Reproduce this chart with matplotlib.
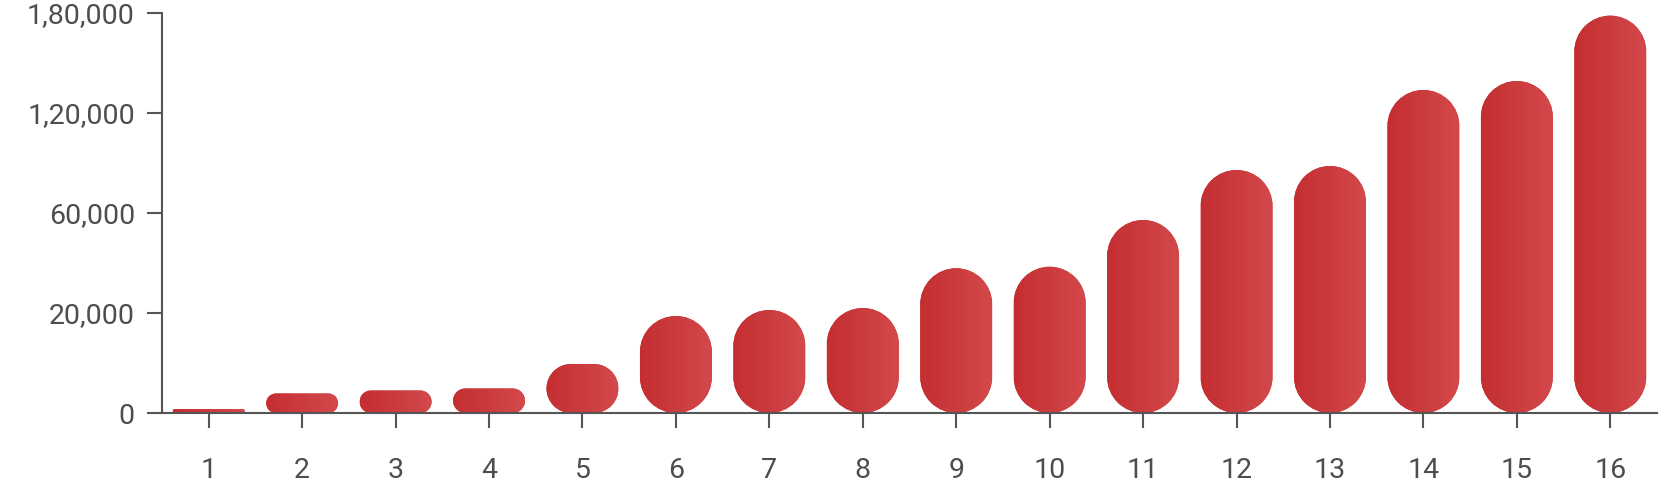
import numpy as np
import matplotlib
matplotlib.use("Agg")
import matplotlib.pyplot as plt
from matplotlib.patches import PathPatch
from matplotlib.path import Path
from matplotlib.transforms import IdentityTransform
from matplotlib.colors import LinearSegmentedColormap

plt.rcParams["font.family"] = ["Roboto", "DejaVu Sans"]

# ---- data ----
categories = [str(i) for i in range(1, 17)]
values = [800, 3900, 4500, 4900, 9800, 19400, 21200, 22000,
          37900, 38500, 57200, 85800, 88200, 133800, 139200, 178400]
y_ticks = [0, 20000, 60000, 120000, 180000]

AXIS_COLOR = "#555555"
TEXT_COLOR = "#4d4d4d"
GRAD_LEFT = "#c42e31"
GRAD_RIGHT = "#d3494b"


def indian_format(v):
    v = int(round(v))
    s = str(v)
    if len(s) <= 3:
        return s
    last3 = s[-3:]
    rest = s[:-3]
    parts = []
    while len(rest) > 2:
        parts.insert(0, rest[-2:])
        rest = rest[:-2]
    if rest:
        parts.insert(0, rest)
    return ",".join(parts) + "," + last3


def rounded_rect(x0, y0, w, h, r):
    verts = []
    codes = []

    def add_arc(cx, cy, t1, t2, first=False):
        a = Path.arc(t1, t2)
        v = a.vertices * r + np.array([cx, cy])
        c = a.codes.copy()
        if not first:
            c[0] = Path.LINETO
        verts.extend(v.tolist())
        codes.extend(c.tolist())

    add_arc(x0 + w - r, y0 + r, 270, 360, first=True)
    add_arc(x0 + w - r, y0 + h - r, 0, 90)
    add_arc(x0 + r, y0 + h - r, 90, 180)
    add_arc(x0 + r, y0 + r, 180, 270)
    verts.append(verts[0])
    codes.append(Path.CLOSEPOLY)
    return Path(np.array(verts), codes)


W, H, DPI = 1670, 501, 100
fig = plt.figure(figsize=(W / DPI, H / DPI), dpi=DPI)
ax = fig.add_axes([162 / W, (H - 413) / H, (1657 - 162) / W, 400 / H])

seg = np.arange(len(y_ticks), dtype=float)
yt = np.array(y_ticks, dtype=float)
ax.set_yscale("function", functions=(lambda v: np.interp(v, yt, seg),
                                      lambda u: np.interp(u, seg, yt)))
ax.set_ylim(0, y_ticks[-1])
x = np.arange(1, len(categories) + 1)
ax.set_xlim(0.5, len(categories) + 0.5)

for s in ["top", "right"]:
    ax.spines[s].set_visible(False)
for s in ["left", "bottom"]:
    ax.spines[s].set_color(AXIS_COLOR)
    ax.spines[s].set_linewidth(1.5)
    ax.spines[s].set_zorder(5)

ax.set_yticks(y_ticks)
ax.set_yticklabels([indian_format(v) for v in y_ticks])
ax.set_xticks(x)
ax.set_xticklabels(categories)
ax.tick_params(axis="y", length=10.5, width=1.5, color=AXIS_COLOR,
               labelcolor=TEXT_COLOR, labelsize=20.5, pad=9)
ax.tick_params(axis="x", length=10.5, width=1.5, color=AXIS_COLOR,
               labelcolor=TEXT_COLOR, labelsize=20.5, pad=21)

cmap = LinearSegmentedColormap.from_list("g", [GRAD_LEFT, GRAD_RIGHT])
grad = np.linspace(0, 1, 256).reshape(1, -1)

bar_w = 0.77
inv_axes = ax.transAxes.inverted()
for xi, v in zip(x, values):
    (px0, py0) = ax.transData.transform((xi - bar_w / 2, 0))
    (px1, py1) = ax.transData.transform((xi + bar_w / 2, v))
    w = px1 - px0
    h = py1 - py0
    r = min(w, h) / 2
    path = rounded_rect(px0, py0, w, h, r)
    patch = PathPatch(path, transform=IdentityTransform(),
                      facecolor="#cc3b3d", edgecolor="none",
                      zorder=2, clip_on=False)
    ax.add_artist(patch)
    (ax0, ay0) = inv_axes.transform((px0, py0))
    (ax1, ay1) = inv_axes.transform((px1, py1))
    im = ax.imshow(grad, cmap=cmap, extent=(ax0, ax1, ay0, ay1),
                   transform=ax.transAxes, aspect="auto",
                   interpolation="bilinear", zorder=3)
    im.set_clip_path(patch)

ax.set_xlim(0.5, len(categories) + 0.5)
ax.set_ylim(0, y_ticks[-1])

fig.savefig("out.png", dpi=DPI)
